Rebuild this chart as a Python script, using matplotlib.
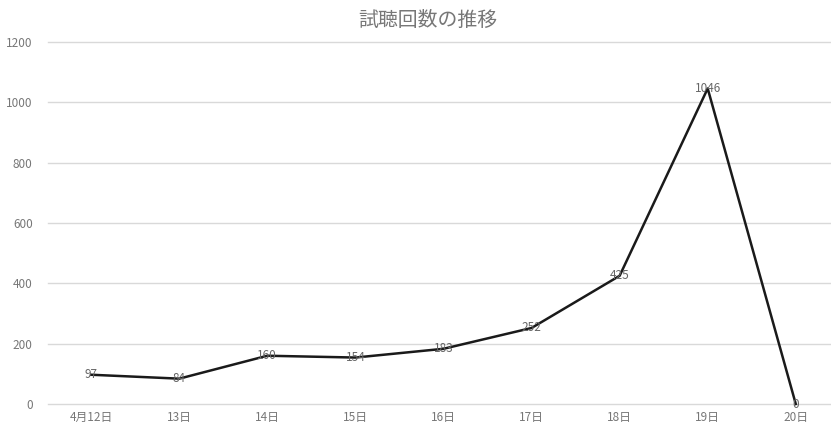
import matplotlib
matplotlib.use("Agg")
import matplotlib.pyplot as plt

plt.rcParams['font.family'] = ['Noto Sans CJK JP', 'DejaVu Sans']

# 日別の試聴回数
days = ["4月12日", "13日", "14日", "15日", "16日", "17日", "18日", "19日", "20日"]
plays = [97, 84, 160, 154, 183, 252, 425, 1046, 0]
y_ticks = [0, 200, 400, 600, 800, 1000, 1200]

fig = plt.figure(figsize=(8.31, 4.26), dpi=100)
ax = fig.add_axes([48 / 831, 1 - 404 / 426, 783 / 831, 362 / 426])

x = list(range(len(days)))
ax.plot(x, plays, color="#1a1a1a", linewidth=1.8, zorder=3, clip_on=False)

for xi, v in zip(x, plays):
    ax.text(xi, v, str(v), ha="center", va="center", fontsize=8.5, color="#666666", zorder=4)

ax.set_xlim(-0.49, 8.4)
ax.set_ylim(0, 1200)
ax.set_yticks(y_ticks)
ax.set_xticks(x)
ax.set_xticklabels(days)
ax.grid(axis="y", color="#d9d9d9", linewidth=1)
for gl in ax.get_ygridlines():
    gl.set_clip_on(False)
ax.set_axisbelow(True)
for s in ax.spines.values():
    s.set_visible(False)
ax.tick_params(length=0, labelsize=8.5, labelcolor="#777777")
ax.tick_params(axis="y", pad=11)
ax.tick_params(axis="x", pad=5)

fig.text(428 / 831, 1 - 20 / 426, "試聴回数の推移", ha="center", va="center", fontsize=14.3, color="#777777")

fig.savefig("out.png", dpi=100)
